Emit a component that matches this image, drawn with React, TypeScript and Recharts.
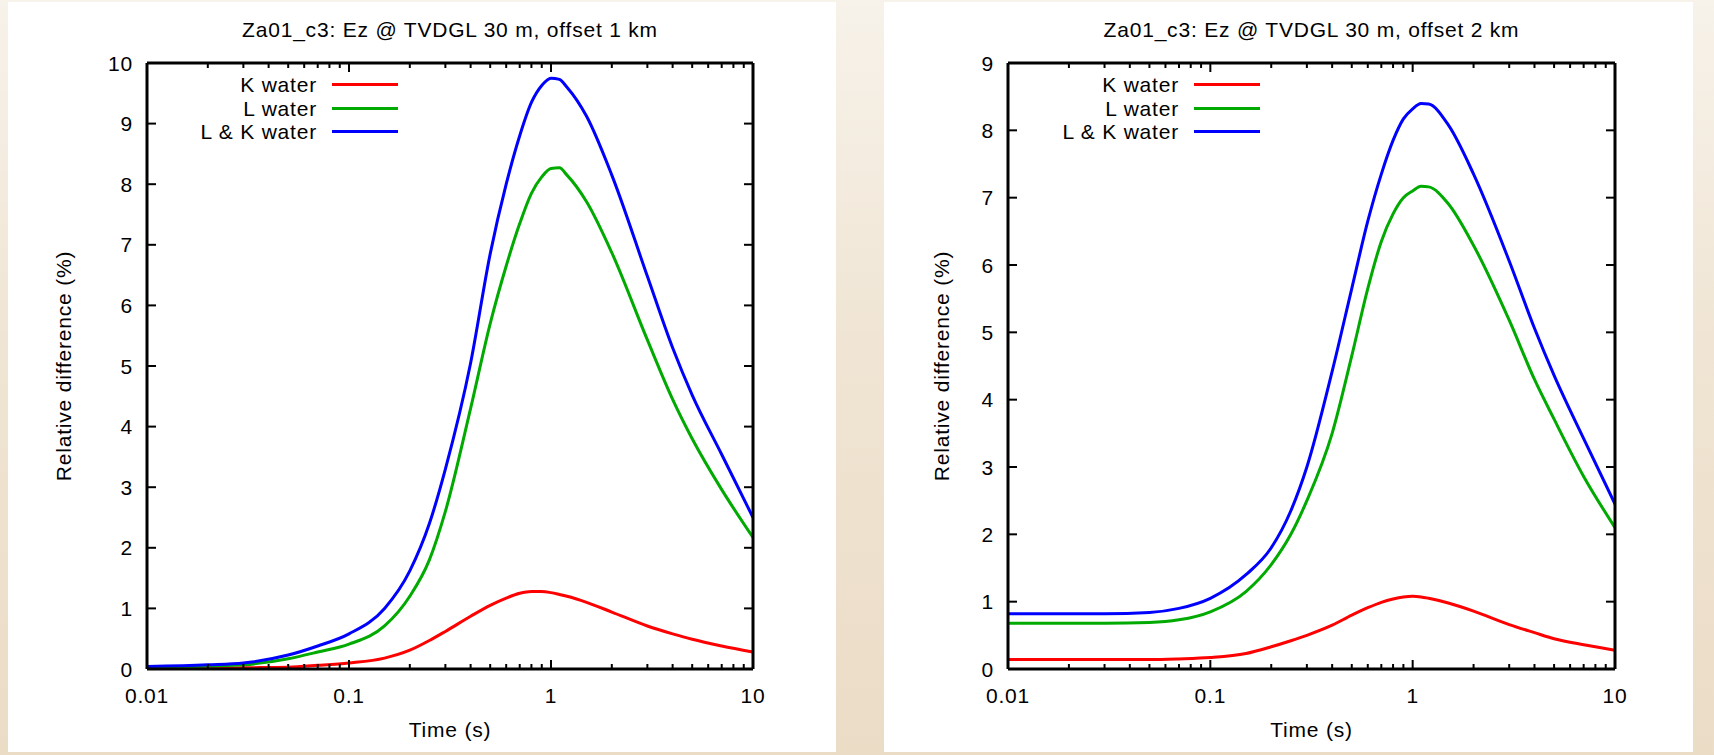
import { LineChart, Line, XAxis, YAxis, Legend } from "recharts"

// sample times (s), shared by both panels
const times = [0.01, 0.02, 0.03, 0.05, 0.07, 0.1, 0.15, 0.2, 0.25, 0.3, 0.4, 0.5, 0.6, 0.7, 0.8, 0.9, 1, 1.1, 1.2, 1.5, 2, 3, 4, 5, 7, 10]

// offset 1 km
const kWater1 = [0.01, 0.01, 0.02, 0.03, 0.06, 0.1, 0.18, 0.31, 0.47, 0.62, 0.87, 1.05, 1.17, 1.25, 1.28, 1.28, 1.26, 1.23, 1.2, 1.1, 0.94, 0.71, 0.58, 0.49, 0.38, 0.28]
const lWater1 = [0.02, 0.05, 0.07, 0.17, 0.28, 0.41, 0.71, 1.2, 1.8, 2.6, 4.3, 5.7, 6.65, 7.35, 7.85, 8.12, 8.26, 8.27, 8.15, 7.71, 6.87, 5.43, 4.45, 3.8, 2.96, 2.17]
const lkWater1 = [0.04, 0.07, 0.1, 0.23, 0.38, 0.58, 1.0, 1.62, 2.4, 3.3, 5.05, 6.85, 8.0, 8.8, 9.35, 9.63, 9.75, 9.73, 9.6, 9.12, 8.15, 6.48, 5.3, 4.52, 3.54, 2.5]

// offset 2 km
const kWater2 = [0.14, 0.14, 0.14, 0.14, 0.15, 0.17, 0.23, 0.33, 0.42, 0.5, 0.65, 0.8, 0.91, 0.99, 1.04, 1.07, 1.08, 1.07, 1.05, 0.98, 0.86, 0.66, 0.54, 0.45, 0.36, 0.28]
const lWater2 = [0.68, 0.68, 0.68, 0.69, 0.73, 0.85, 1.15, 1.55, 2.0, 2.5, 3.5, 4.65, 5.65, 6.35, 6.76, 7.0, 7.1, 7.17, 7.16, 6.91, 6.29, 5.18, 4.3, 3.71, 2.86, 2.1]
const lkWater2 = [0.82, 0.82, 0.82, 0.84, 0.9, 1.05, 1.4, 1.8, 2.35, 3.0, 4.42, 5.65, 6.65, 7.35, 7.85, 8.17, 8.32, 8.4, 8.39, 8.08, 7.35, 6.06, 5.06, 4.36, 3.42, 2.45]

const xTicks = [0.01, 0.02, 0.03, 0.04, 0.05, 0.06, 0.07, 0.08, 0.09, 0.1, 0.2, 0.3, 0.4, 0.5, 0.6, 0.7, 0.8, 0.9, 1, 2, 3, 4, 5, 6, 7, 8, 9, 10]
const xMajor = [0.01, 0.1, 1, 10]
const yTicks1 = [0, 1, 2, 3, 4, 5, 6, 7, 8, 9, 10]
const yTicks2 = [0, 1, 2, 3, 4, 5, 6, 7, 8, 9]

const series = [
  { key: "k", name: "K water", color: "#ff0000" },
  { key: "l", name: "L water", color: "#00aa00" },
  { key: "lk", name: "L & K water", color: "#0000ff" },
]

const FONT = "'Liberation Sans', Arial, Helvetica, sans-serif"
const txt = { fontFamily: FONT, fontSize: 21, letterSpacing: 0.8, fill: "#000" }

const toRows = (k: number[], l: number[], lk: number[]) =>
  times.map((t, i) => ({ t, k: k[i], l: l[i], lk: lk[i] }))

function BottomTick({ x, y, payload }: any) {
  const major = xMajor.includes(payload.value)
  return (
    <g>
      <line x1={x} y1={y} x2={x} y2={y - (major ? 9 : 5)} stroke="#000" strokeWidth={2} />
      {major && (
        <text x={x} y={y + 34} textAnchor="middle" {...txt}>
          {String(payload.value)}
        </text>
      )}
    </g>
  )
}

function TopTick({ x, y, payload }: any) {
  const major = xMajor.includes(payload.value)
  return <line x1={x} y1={y} x2={x} y2={y + (major ? 9 : 5)} stroke="#000" strokeWidth={2} />
}

function LeftTick({ x, y, payload }: any) {
  return (
    <g>
      <line x1={x} y1={y} x2={x + 9} y2={y} stroke="#000" strokeWidth={2} />
      <text x={x - 14} y={y + 7.5} textAnchor="end" {...txt}>
        {String(payload.value)}
      </text>
    </g>
  )
}

function RightTick({ x, y }: any) {
  return <line x1={x} y1={y} x2={x - 9} y2={y} stroke="#000" strokeWidth={2} />
}

function KeyBox({ left }: { left: number }) {
  return (
    <div style={{ position: "relative", left, width: 280 }}>
      {series.map((s) => (
        <div key={s.key} style={{ display: "flex", alignItems: "center", height: 23.5 }}>
          <span
            style={{
              width: 170,
              textAlign: "right",
              fontFamily: FONT,
              fontSize: 21,
              letterSpacing: 0.8,
              color: "#000",
              lineHeight: "23px",
            }}
          >
            {s.name}
          </span>
          <span style={{ width: 15 }} />
          <span style={{ width: 66, height: 3, background: s.color, display: "inline-block" }} />
        </div>
      ))}
    </div>
  )
}

interface PanelProps {
  title: string
  rows: { t: number; k: number; l: number; lk: number }[]
  yTicks: number[]
  width: number
  plotLeft: number
  plotRight: number
  yLabelX: number
  keyLeft: number
}

const axisLine = { stroke: "#000", strokeWidth: 3 }

function Panel({ title, rows, yTicks, width, plotLeft, plotRight, yLabelX, keyLeft }: PanelProps) {
  const height = 755
  const top = 63
  const bottom = 86
  const yMax = yTicks[yTicks.length - 1]
  const midX = plotLeft + (width - plotLeft - plotRight) / 2
  const midY = top + (height - top - bottom) / 2
  // axes are 1px thick boxes, so the margins give way by one pixel
  const margin = { top: top - 1, right: plotRight - 1, bottom: bottom - 1, left: plotLeft - 1 }
  return (
    <LineChart width={width} height={height} data={rows} margin={margin}>
      <XAxis
        dataKey="t"
        type="number"
        scale="log"
        domain={[0.01, 10]}
        allowDataOverflow
        ticks={xTicks}
        interval={0}
        height={1}
        tickSize={0}
        tickMargin={0}
        tickLine={false}
        tick={<BottomTick />}
        axisLine={axisLine}
      />
      <XAxis
        xAxisId="top"
        orientation="top"
        dataKey="t"
        type="number"
        scale="log"
        domain={[0.01, 10]}
        allowDataOverflow
        ticks={xTicks}
        interval={0}
        height={1}
        tickSize={0}
        tickMargin={0}
        tickLine={false}
        tick={<TopTick />}
        axisLine={axisLine}
      />
      <YAxis
        type="number"
        domain={[0, yMax]}
        allowDataOverflow
        ticks={yTicks}
        interval={0}
        width={1}
        tickSize={0}
        tickMargin={0}
        tickLine={false}
        tick={<LeftTick />}
        axisLine={axisLine}
      />
      <YAxis
        yAxisId="right"
        orientation="right"
        type="number"
        domain={[0, yMax]}
        allowDataOverflow
        ticks={yTicks}
        interval={0}
        width={1}
        tickSize={0}
        tickMargin={0}
        tickLine={false}
        tick={<RightTick />}
        axisLine={axisLine}
      />
      {series.map((s) => (
        <Line
          key={s.key}
          type="monotone"
          dataKey={s.key}
          name={s.name}
          stroke={s.color}
          strokeWidth={3}
          dot={false}
          isAnimationActive={false}
        />
      ))}
      <Legend
        layout="vertical"
        align="center"
        verticalAlign="middle"
        wrapperStyle={{ left: 0, top: 73, width: 400 }}
        content={() => <KeyBox left={keyLeft} />}
      />
      <text x={midX} y={37} textAnchor="middle" {...txt}>
        {title}
      </text>
      <text x={midX} y={737} textAnchor="middle" {...txt}>
        Time (s)
      </text>
      <text
        x={yLabelX}
        y={midY}
        textAnchor="middle"
        dominantBaseline="central"
        transform={`rotate(-90, ${yLabelX}, ${midY})`}
        {...txt}
      >
        Relative difference (%)
      </text>
    </LineChart>
  )
}

export default function App() {
  return (
    <div
      style={{
        position: "absolute",
        left: 0,
        top: 0,
        width: 1714,
        height: 755,
        overflow: "hidden",
        background: "linear-gradient(180deg, #f7f2ea 0%, #f0e5d4 45%, #ebdcc6 100%)",
      }}
    >
      <div style={{ position: "absolute", left: 8, top: 2, width: 828, height: 750, background: "#fff" }} />
      <div style={{ position: "absolute", left: 884, top: 2, width: 809, height: 750, background: "#fff" }} />
      <div style={{ position: "absolute", left: 0, top: 0 }}>
        <Panel
          title="Za01_c3: Ez @ TVDGL 30 m, offset 1 km"
          rows={toRows(kWater1, lWater1, lkWater1)}
          yTicks={yTicks1}
          width={836}
          plotLeft={147}
          plotRight={83}
          yLabelX={63}
          keyLeft={147}
        />
      </div>
      <div style={{ position: "absolute", left: 860, top: 0 }}>
        <Panel
          title="Za01_c3: Ez @ TVDGL 30 m, offset 2 km"
          rows={toRows(kWater2, lWater2, lkWater2)}
          yTicks={yTicks2}
          width={854}
          plotLeft={148}
          plotRight={99}
          yLabelX={81}
          keyLeft={149}
        />
      </div>
    </div>
  )
}
